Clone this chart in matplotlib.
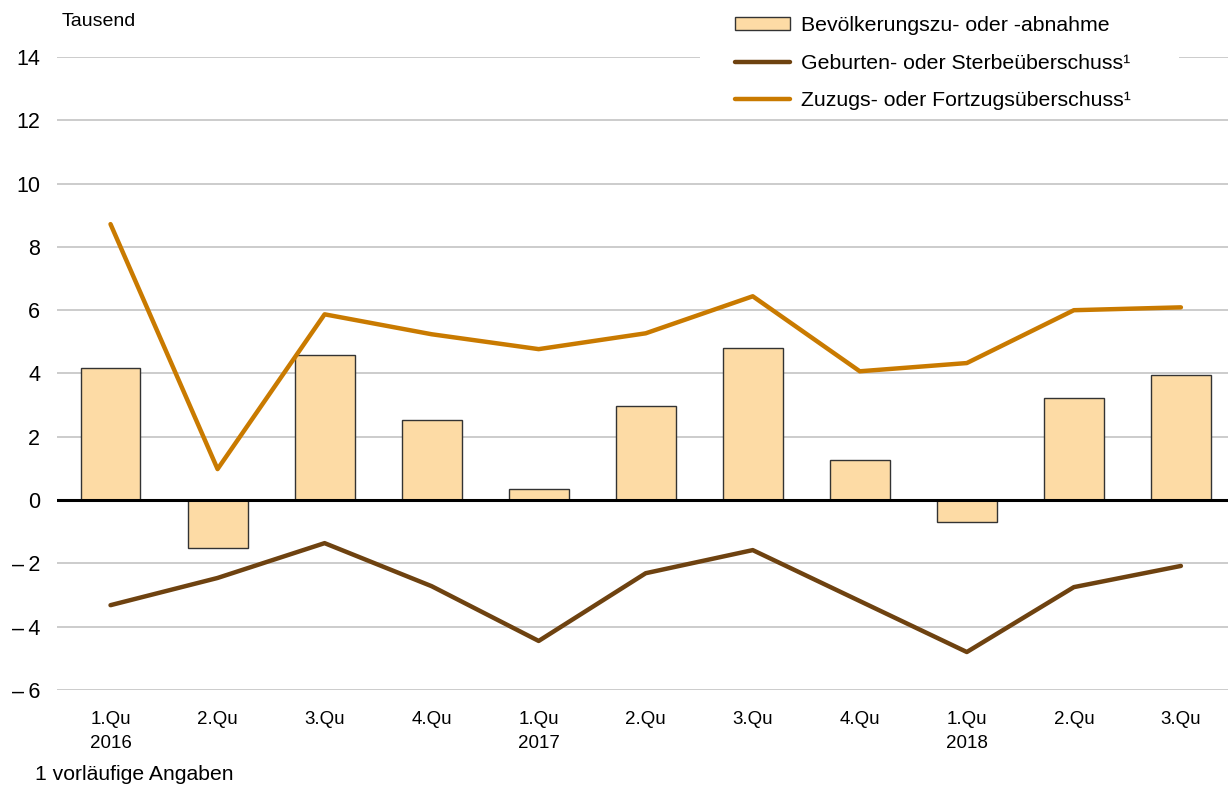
import numpy as np
import matplotlib.pyplot as plt
from matplotlib.patches import Rectangle

plt.rcParams['font.family'] = ['Liberation Sans', 'DejaVu Sans']

quarters = ['1.Qu\n2016', '2.Qu', '3.Qu', '4.Qu', '1.Qu\n2017', '2.Qu', '3.Qu',
            '4.Qu', '1.Qu\n2018', '2.Qu', '3.Qu']
bevoelkerung = [4.17, -1.52, 4.58, 2.53, 0.35, 2.97, 4.80, 1.26, -0.69, 3.22, 3.95]
geburten = [-3.32, -2.46, -1.36, -2.72, -4.45, -2.31, -1.58, -3.19, -4.80, -2.75, -2.08]
zuzug = [8.72, 0.98, 5.87, 5.24, 4.77, 5.27, 6.44, 4.07, 4.33, 6.00, 6.09]
yticks = [-6, -4, -2, 0, 2, 4, 6, 8, 10, 12, 14]

c_bar = '#FDDBA5'
c_brown = '#6E4210'
c_orange = '#C97A00'

fig = plt.figure(figsize=(12.28, 7.90), dpi=100)
ax = fig.add_axes([57 / 1228, 1 - 690 / 790, 1 - 57 / 1228, (690 - 57) / 790])

x = np.arange(len(quarters))
bars = ax.bar(x, bevoelkerung, width=0.56, color=c_bar, edgecolor='#333333', linewidth=1.0,
              zorder=2)
l1, = ax.plot(x, geburten, color=c_brown, lw=3.2, solid_capstyle='round', zorder=3)
l2, = ax.plot(x, zuzug, color=c_orange, lw=3.2, solid_capstyle='round', zorder=3)

ax.axhline(0, color='black', lw=2.2, zorder=4)
for y in yticks:
    if y != 0:
        ax.axhline(y, color='#BEBEBE', lw=1.1, zorder=1)

# white area behind the legend hides the top gridline
ax.add_patch(Rectangle((700 / 1228, 1 - 118 / 790), 479 / 1228, 118 / 790,
                       transform=fig.transFigure, facecolor='white', edgecolor='none',
                       zorder=1.5, clip_on=False))

ax.set_xlim(-0.5, 10.44)
ax.set_ylim(-6, 14)
ax.set_yticks(yticks)
ax.set_yticklabels([('–\u2009' + str(-v)) if v < 0 else str(v) for v in yticks], fontsize=15.5)
ax.set_xticks(x)
ax.set_xticklabels(quarters, fontsize=13.5, linespacing=1.55)
ax.tick_params(length=0)
ax.tick_params(axis='y', pad=12)
ax.tick_params(axis='x', pad=15)
for s in ax.spines.values():
    s.set_visible(False)

fig.text(62 / 1228, 1 - 21 / 790, 'Tausend', fontsize=14, va='center', ha='left')
fig.text(35 / 1228, 1 - 775 / 790, '1 vorläufige Angaben', fontsize=15.2, va='center', ha='left')

leg = fig.legend([bars, l1, l2],
                 ['Bevölkerungszu- oder -abnahme', 'Geburten- oder Sterbeüberschuss¹',
                  'Zuzugs- oder Fortzugsüberschuss¹'],
                 loc='upper left', bbox_to_anchor=(735 / 1228, 1 - 16 / 790),
                 frameon=False, fontsize=15.3, handlelength=2.6, handleheight=0.6,
                 labelspacing=0.88, borderpad=0, borderaxespad=0, handletextpad=0.5)

plt.savefig('out.png', dpi=100)
